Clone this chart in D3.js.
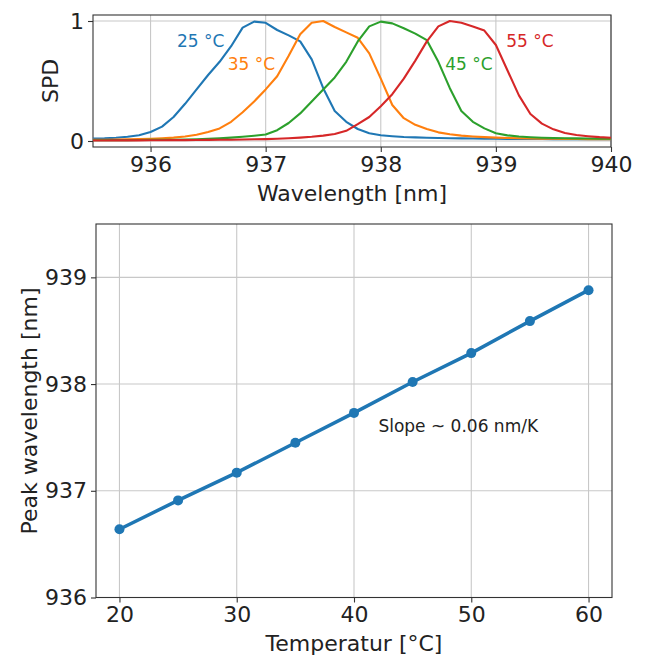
<!DOCTYPE html>
<html>
<head>
<meta charset="utf-8">
<script src="https://cdn.jsdelivr.net/npm/d3@7"></script>
<style>
  body { margin: 0; background: #fff; }
  text { font-family: "DejaVu Sans", sans-serif; fill: #222; }
</style>
</head>
<body>
<div id="chart"></div>
<script>
// spectra (top panel)
var wavelength = [935.5, 935.6, 935.7, 935.8, 935.9, 936.0, 936.1, 936.2, 936.3, 936.4,
                  936.5, 936.6, 936.7, 936.8, 936.9, 937.0, 937.1, 937.2, 937.3, 937.4,
                  937.5, 937.6, 937.7, 937.8, 937.9, 938.0, 938.1, 938.2, 938.3, 938.4,
                  938.5, 938.6, 938.7, 938.8, 938.9, 939.0, 939.1, 939.2, 939.3, 939.4,
                  939.5, 939.6, 939.7, 939.8, 939.9, 940.0];
var spd25 = [0.020, 0.022, 0.027, 0.035, 0.048, 0.075, 0.12, 0.20, 0.31, 0.43,
             0.55, 0.66, 0.79, 0.945, 0.995, 0.985, 0.925, 0.88, 0.83, 0.68,
             0.44, 0.25, 0.16, 0.10, 0.065, 0.048, 0.040, 0.033, 0.030, 0.027,
             0.025, 0.023, 0.022, 0.021, 0.020, 0.019, 0.018, 0.018, 0.017, 0.017,
             0.016, 0.016, 0.015, 0.015, 0.015, 0.015];
var spd35 = [0.010, 0.011, 0.012, 0.014, 0.016, 0.018, 0.022, 0.028, 0.038, 0.052,
             0.075, 0.105, 0.16, 0.24, 0.33, 0.43, 0.54, 0.71, 0.89, 0.985,
             1.0, 0.95, 0.905, 0.86, 0.73, 0.52, 0.30, 0.19, 0.135, 0.10,
             0.072, 0.056, 0.045, 0.038, 0.032, 0.028, 0.025, 0.023, 0.021, 0.020,
             0.019, 0.018, 0.017, 0.016, 0.016, 0.015];
var spd45 = [0.006, 0.006, 0.007, 0.007, 0.008, 0.009, 0.010, 0.011, 0.013, 0.015,
             0.018, 0.022, 0.028, 0.035, 0.044, 0.054, 0.09, 0.15, 0.23, 0.33,
             0.43, 0.53, 0.66, 0.83, 0.955, 0.995, 0.98, 0.94, 0.895, 0.84,
             0.66, 0.44, 0.25, 0.16, 0.105, 0.065, 0.047, 0.037, 0.031, 0.027,
             0.025, 0.023, 0.022, 0.021, 0.020, 0.020];
var spd55 = [0.004, 0.004, 0.005, 0.005, 0.005, 0.006, 0.006, 0.007, 0.007, 0.008,
             0.009, 0.010, 0.011, 0.012, 0.014, 0.016, 0.019, 0.023, 0.028, 0.035,
             0.045, 0.058, 0.085, 0.14, 0.20, 0.29, 0.39, 0.52, 0.67, 0.83,
             0.955, 1.0, 0.985, 0.955, 0.92, 0.80, 0.59, 0.38, 0.225, 0.145,
             0.097, 0.066, 0.050, 0.040, 0.032, 0.027];
var seriesNames = ["25 °C", "35 °C", "45 °C", "55 °C"];
var seriesColors = ["#1f77b4", "#ff7f0e", "#2ca02c", "#d62728"];
var labelX = [936.23, 936.67, 938.56, 939.09];
var labelY = [0.78, 0.59, 0.59, 0.78];
var spdTicksX = [936, 937, 938, 939, 940];
var spdTicksY = [0, 1];

// peak wavelength vs temperature (bottom panel)
var temperature = [20, 25, 30, 35, 40, 45, 50, 55, 60];
var peak = [936.64, 936.91, 937.17, 937.45, 937.73, 938.02, 938.29, 938.59, 938.88];
var tempTicks = [20, 30, 40, 50, 60];
var peakTicks = [936, 937, 938, 939];

var svg = d3.select("#chart").append("svg")
    .attr("width", 646)
    .attr("height", 657);

function panel(box, xDomain, yDomain, xTicks, yTicks) {
    var x = d3.scaleLinear().domain(xDomain).range([box.left, box.right]);
    var y = d3.scaleLinear().domain(yDomain).range([box.bottom, box.top]);
    var g = svg.append("g");

    // grid
    g.selectAll(".gx").data(xTicks).enter().append("line")
        .attr("x1", function(d) { return x(d); }).attr("x2", function(d) { return x(d); })
        .attr("y1", box.top).attr("y2", box.bottom)
        .attr("stroke", "#c8c8c8").attr("stroke-width", 1.1);
    g.selectAll(".gy").data(yTicks).enter().append("line")
        .attr("y1", function(d) { return y(d); }).attr("y2", function(d) { return y(d); })
        .attr("x1", box.left).attr("x2", box.right)
        .attr("stroke", "#c8c8c8").attr("stroke-width", 1.1);

    // axes
    var xAxis = g.append("g").attr("transform", "translate(0," + box.bottom + ")")
        .call(d3.axisBottom(x).tickValues(xTicks).tickSize(5).tickPadding(4).tickFormat(d3.format("d")));
    var yAxis = g.append("g").attr("transform", "translate(" + box.left + ",0)")
        .call(d3.axisLeft(y).tickValues(yTicks).tickSize(5).tickPadding(4).tickFormat(d3.format("d")));
    [xAxis, yAxis].forEach(function(a) {
        a.select(".domain").remove();
        a.selectAll("line").attr("stroke", "#333").attr("stroke-width", 1.1);
        a.selectAll("text").attr("font-size", 22).attr("font-family", "DejaVu Sans").attr("fill", "#222");
    });

    // frame
    g.append("rect")
        .attr("x", box.left).attr("y", box.top)
        .attr("width", box.right - box.left).attr("height", box.bottom - box.top)
        .attr("fill", "none").attr("stroke", "#333").attr("stroke-width", 1.1);

    return { x: x, y: y, g: g };
}

// ---- top panel ----
var spdPanel = panel({ left: 93, right: 611, top: 15, bottom: 147 },
                [935.5, 940], [-0.05, 1.05], spdTicksX, spdTicksY);
var spectra = [spd25, spd35, spd45, spd55];
spectra.forEach(function(vals, i) {
    var line = d3.line()
        .x(function(d, j) { return spdPanel.x(wavelength[j]); })
        .y(function(d) { return spdPanel.y(d); });
    spdPanel.g.append("path")
        .datum(vals)
        .attr("d", line)
        .attr("fill", "none")
        .attr("stroke", seriesColors[i])
        .attr("stroke-width", 2.1)
        .attr("stroke-linejoin", "round");
});
spectra.forEach(function(vals, i) {
    spdPanel.g.append("text")
        .attr("x", spdPanel.x(labelX[i]))
        .attr("y", spdPanel.y(labelY[i]))
        .attr("font-size", 17)
        .style("fill", seriesColors[i])
        .text(seriesNames[i]);
});
svg.append("text")
    .attr("x", 352).attr("y", 201)
    .attr("text-anchor", "middle").attr("font-size", 22)
    .text("Wavelength [nm]");
svg.append("text")
    .attr("transform", "translate(58,81) rotate(-90)")
    .attr("text-anchor", "middle").attr("font-size", 22)
    .text("SPD");

// ---- bottom panel ----
var peakPanel = panel({ left: 96, right: 612, top: 224, bottom: 597.5 },
                [18, 62], [936, 939.5], tempTicks, peakTicks);
var peakLine = d3.line()
    .x(function(d, i) { return peakPanel.x(temperature[i]); })
    .y(function(d) { return peakPanel.y(d); });
peakPanel.g.append("path")
    .datum(peak)
    .attr("d", peakLine)
    .attr("fill", "none")
    .attr("stroke", "#1f77b4")
    .attr("stroke-width", 3.5);
peakPanel.g.selectAll(".pt").data(peak).enter().append("circle")
    .attr("cx", function(d, i) { return peakPanel.x(temperature[i]); })
    .attr("cy", function(d) { return peakPanel.y(d); })
    .attr("r", 5)
    .attr("fill", "#1f77b4");
peakPanel.g.append("text")
    .attr("x", peakPanel.x(42.08)).attr("y", peakPanel.y(937.55))
    .attr("font-size", 17)
    .text("Slope ~ 0.06 nm/K");
svg.append("text")
    .attr("x", 354).attr("y", 651)
    .attr("text-anchor", "middle").attr("font-size", 22)
    .text("Temperatur [°C]");
svg.append("text")
    .attr("transform", "translate(37,411) rotate(-90)")
    .attr("text-anchor", "middle").attr("font-size", 22)
    .text("Peak wavelength [nm]");
</script>
</body>
</html>
